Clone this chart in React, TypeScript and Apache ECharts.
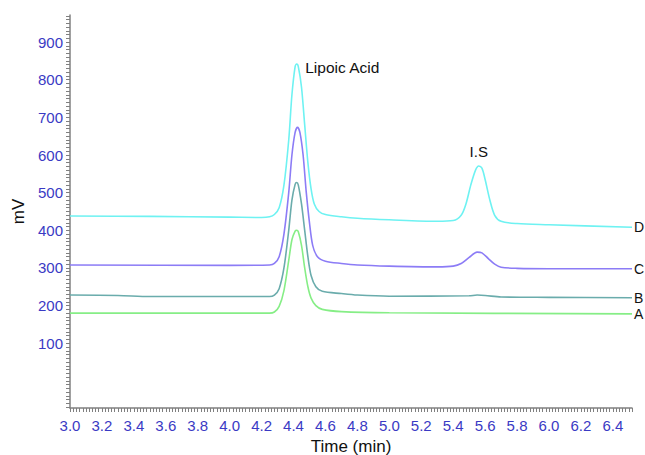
import React, { useEffect, useRef } from "react";
import * as echarts from "echarts";

// ---- Data ----
const timesD = [3.0, 3.5, 4.0, 4.2, 4.25, 4.28, 4.31, 4.34, 4.37, 4.39, 4.41, 4.42, 4.43, 4.45, 4.47, 4.49, 4.51, 4.53, 4.56, 4.6, 4.7, 4.8, 5.0, 5.3, 5.4, 5.45, 5.48, 5.51, 5.54, 5.56, 5.58, 5.6, 5.63, 5.66, 5.7, 5.8, 6.0, 6.52];
const valuesD = [438, 437, 435, 434, 436, 442, 460, 520, 640, 760, 835, 842, 835, 780, 680, 580, 510, 470, 450, 442, 436, 432, 428, 424, 426, 440, 470, 520, 560, 571, 565, 535, 480, 440, 424, 418, 415, 408];

const timesC = [3.0, 4.0, 4.25, 4.28, 4.31, 4.34, 4.37, 4.39, 4.41, 4.425, 4.44, 4.46, 4.48, 4.5, 4.52, 4.55, 4.6, 4.7, 4.8, 5.0, 5.3, 5.4, 5.45, 5.5, 5.55, 5.58, 5.62, 5.66, 5.7, 5.8, 6.0, 6.52];
const valuesC = [308, 307, 308, 312, 330, 390, 500, 600, 660, 674, 660, 600, 500, 420, 360, 330, 318, 312, 308, 305, 303, 305, 312, 328, 342, 340, 325, 310, 302, 299, 298, 298];

const timesB = [3.0, 3.3, 3.5, 4.25, 4.28, 4.31, 4.34, 4.37, 4.39, 4.41, 4.42, 4.43, 4.45, 4.47, 4.49, 4.51, 4.54, 4.58, 4.7, 4.8, 5.0, 5.5, 5.55, 5.6, 5.7, 6.0, 6.52];
const valuesB = [228, 227, 224, 224, 228, 245, 300, 400, 480, 522, 527, 520, 470, 400, 330, 280, 250, 238, 232, 228, 225, 226, 228, 227, 223, 222, 221];

const timesA = [3.0, 4.25, 4.28, 4.31, 4.34, 4.37, 4.39, 4.41, 4.42, 4.43, 4.45, 4.47, 4.49, 4.51, 4.54, 4.58, 4.7, 5.0, 6.52];
const valuesA = [180, 180, 183, 198, 240, 320, 375, 398, 400, 396, 360, 300, 250, 220, 200, 190, 184, 181, 178];

const seriesNames = ["A", "B", "C", "D"];
const seriesColors = ["#86ee86", "#6aacac", "#8c7cf6", "#6ef2f2"];

const xTickLabels = [3.0, 3.2, 3.4, 3.6, 3.8, 4.0, 4.2, 4.4, 4.6, 4.8, 5.0, 5.2, 5.4, 5.6, 5.8, 6.0, 6.2, 6.4];
const yTickLabels = [100, 200, 300, 400, 500, 600, 700, 800, 900];

const peakLabels = [
  { text: "Lipoic Acid", t: 4.42, v: 842 },
  { text: "I.S", t: 5.56, v: 571 },
];

const X_MIN = 3.0;
const X_MAX = 6.52;
const Y_MIN = -72;
const Y_MAX = 972;

function zip(ts: number[], vs: number[]) {
  return ts.map((t, i) => [t, vs[i]]);
}

export default function App() {
  const ref = useRef<HTMLDivElement>(null);

  useEffect(() => {
    if (!ref.current) return;
    const chart = echarts.init(ref.current, null, { renderer: "svg" });

    const xMinorTicks: number[] = [];
    for (let i = 0; i <= Math.round((X_MAX - X_MIN) / 0.02); i++) {
      xMinorTicks.push(Math.round((X_MIN + i * 0.02) * 100) / 100);
    }
    const yMinorTicks: number[] = [];
    for (let v = -70; v <= 970; v += 10) yMinorTicks.push(v);

    const allData = [zip(timesA, valuesA), zip(timesB, valuesB), zip(timesC, valuesC), zip(timesD, valuesD)];
    const font = "Liberation Sans, Arial, Helvetica, sans-serif";

    const series: any[] = allData.map((d, i) => ({
      name: seriesNames[i],
      type: "line",
      data: d,
      showSymbol: false,
      symbol: "none",
      smooth: 0.3,
      lineStyle: { color: seriesColors[i], width: 1.6 },
      itemStyle: { color: seriesColors[i] },
      endLabel: {
        show: true,
        formatter: seriesNames[i],
        color: "#111",
        fontSize: 14,
        fontFamily: font,
        distance: 2,
      },
      silent: true,
    }));

    series[3].markPoint = {
      symbol: "rect",
      symbolSize: 1,
      itemStyle: { color: "rgba(0,0,0,0)" },
      data: [
        {
          coord: [peakLabels[0].t, peakLabels[0].v],
          label: {
            show: true,
            formatter: peakLabels[0].text,
            position: "right",
            distance: 8,
            offset: [0, 4],
            color: "#111",
            fontSize: 15.5,
            fontFamily: font,
          },
        },
        {
          coord: [peakLabels[1].t, peakLabels[1].v],
          label: {
            show: true,
            formatter: peakLabels[1].text,
            position: "top",
            distance: 6,
            color: "#111",
            fontSize: 15,
            fontFamily: font,
          },
        },
      ],
    };

    chart.setOption({
      animation: false,
      backgroundColor: "#fff",
      grid: { left: 70, right: 13, top: 15, bottom: 47, containLabel: false, outerBoundsMode: "none" },
      xAxis: {
        type: "value",
        min: X_MIN,
        max: X_MAX,
        name: "Time (min)",
        nameLocation: "middle",
        nameGap: 29,
        nameTextStyle: { color: "#111", fontSize: 17, fontFamily: font },
        axisLine: { show: true, onZero: false, lineStyle: { color: "#808080", width: 1.5 } },
        axisTick: { show: true, length: 4, customValues: xMinorTicks, lineStyle: { color: "#808080", width: 1 } },
        axisLabel: {
          customValues: xTickLabels,
          formatter: (v: number) => v.toFixed(1),
          color: "#3a3ac4",
          fontSize: 15,
          fontFamily: font,
          margin: 10,
        },
        splitLine: { show: false },
      },
      yAxis: {
        type: "value",
        min: Y_MIN,
        max: Y_MAX,
        name: "mV",
        nameLocation: "middle",
        nameGap: 37,
        nameRotate: 90,
        nameTextStyle: { color: "#111", fontSize: 17, fontFamily: font },
        axisLine: { show: true, onZero: false, lineStyle: { color: "#808080", width: 1.5 } },
        axisTick: { show: true, length: 4, customValues: yMinorTicks, lineStyle: { color: "#808080", width: 1 } },
        axisLabel: {
          customValues: yTickLabels,
          color: "#3a3ac4",
          fontSize: 15,
          fontFamily: font,
          margin: 7,
        },
        splitLine: { show: false },
      },
      series,
    });

    return () => chart.dispose();
  }, []);

  return <div ref={ref} style={{ width: 645, height: 455, position: "absolute", left: 0, top: 0 }} />;
}
